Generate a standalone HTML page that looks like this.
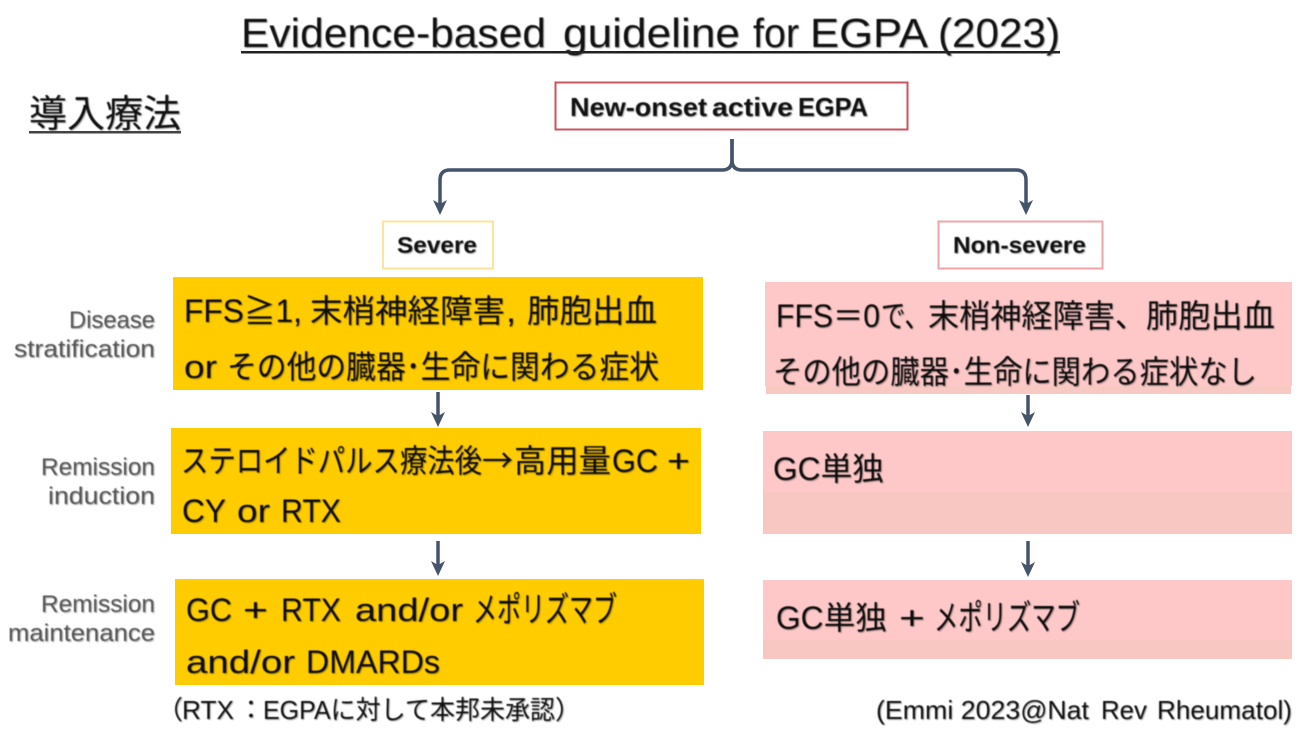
<!DOCTYPE html>
<html lang="ja"><head><meta charset="utf-8"><title>Evidence-based guideline for EGPA (2023)</title>
<style>
html,body{margin:0;padding:0;background:#fff;width:1300px;height:731px;overflow:hidden}
svg{display:block}
text{font-family:"Liberation Sans","Noto Sans CJK JP",sans-serif;fill:#111;filter:url(#s)}
.j{font-size:32px;fill:#0c0c0c}
.k{font-size:35px;fill:#0c0c0c}
.l{font-size:24.5px;fill:#555}
.b{font-weight:bold}
.t{font-size:41px}
.c{font-family:"Noto Sans CJK JP",sans-serif}
</style></head><body>
<svg width="1300" height="731" viewBox="0 0 1300 731" xmlns="http://www.w3.org/2000/svg">
<defs><filter id="s" x="-10%" y="-25%" width="120%" height="150%" color-interpolation-filters="sRGB">
<feGaussianBlur in="SourceGraphic" stdDeviation="0.5" result="b"/>
<feOffset in="SourceAlpha" dx="1" dy="1" result="o"/>
<feGaussianBlur in="o" stdDeviation="0.9" result="g"/>
<feComponentTransfer in="g" result="sh"><feFuncA type="linear" slope="0.3"/></feComponentTransfer>
<feMerge><feMergeNode in="sh"/><feMergeNode in="b"/></feMerge>
</filter></defs>
<rect width="1300" height="731" fill="#fff"/>

<text class="t" x="241" y="47" textLength="305" lengthAdjust="spacingAndGlyphs">Evidence-based</text>
<text class="t" x="563" y="47" textLength="177" lengthAdjust="spacingAndGlyphs">guideline</text>
<text class="t" x="753" y="47" textLength="46" lengthAdjust="spacingAndGlyphs">for</text>
<text class="t" x="810" y="47" textLength="118" lengthAdjust="spacingAndGlyphs">EGPA</text>
<text class="t" x="938" y="47" textLength="122" lengthAdjust="spacingAndGlyphs">(2023)</text>
<rect x="241" y="51" width="819" height="2.5" fill="#222"/>
<text x="29" y="127" font-size="38" textLength="152" lengthAdjust="spacingAndGlyphs">導入療法</text>
<rect x="29" y="131" width="152" height="2.5" fill="#444"/>

<rect x="555.5" y="82.5" width="352" height="47" fill="#fff" stroke="#c9555e" stroke-width="2"/>
<text x="570" y="116" font-size="26" class="b" textLength="137" lengthAdjust="spacingAndGlyphs">New-onset</text>
<text x="712" y="116" font-size="26" class="b" textLength="81" lengthAdjust="spacingAndGlyphs">active</text>
<text x="798" y="116" font-size="26" class="b" textLength="70" lengthAdjust="spacingAndGlyphs">EGPA</text>
<rect x="383" y="221.5" width="110" height="47" fill="#fff" stroke="#fde39b" stroke-width="2"/>
<text x="397" y="253" font-size="23" class="b" textLength="80" lengthAdjust="spacingAndGlyphs">Severe</text>
<rect x="938.5" y="221.5" width="164" height="47" fill="#fff" stroke="#f2a3a8" stroke-width="2"/>
<text x="953" y="253" font-size="23" class="b" textLength="133" lengthAdjust="spacingAndGlyphs">Non-severe</text>

<g fill="none" stroke="#44546a" stroke-width="3.5">
<path d="M732 139V160Q732 170 722 170H450Q440 170 440 180V204"/>
<path d="M732 139V160Q732 170 742 170H1016Q1026 170 1026 180V204"/>
<path d="M438 392V416"/><path d="M438 541V565"/>
<path d="M1028 395V418"/><path d="M1028 541V566"/>
</g>
<g fill="#44546a">
<path d="M433 200L440 204L447 200L440 215Z"/><path d="M1019 200L1026 204L1033 200L1026 215Z"/>
<path d="M431 412L438 416L445 412L438 427Z"/><path d="M431 561L438 565L445 561L438 576Z"/>
<path d="M1021 412L1028 416L1035 412L1028 427Z"/><path d="M1021 562L1028 566L1035 562L1028 577Z"/>
</g>

<rect x="173" y="277" width="530" height="113" fill="#ffcc00"/>
<rect x="171" y="428" width="530" height="106" fill="#ffcc00"/>
<rect x="175" y="579" width="529" height="106" fill="#ffcc00"/>

<rect x="766" y="382" width="525" height="12" fill="#f8c8c3"/>
<rect x="765" y="282" width="527" height="104" fill="#fec8c8"/>
<rect x="763" y="431" width="529" height="103" fill="#f8c7c2"/>
<rect x="763" y="431" width="529" height="61" fill="#fec8c8"/>
<rect x="763" y="580" width="529" height="79" fill="#f8c7c2"/>
<rect x="763" y="580" width="529" height="60" fill="#fec8c8"/>

<text class="j" x="184" y="322" textLength="118" lengthAdjust="spacingAndGlyphs">FFS≧1,</text>
<text class="j" x="310" y="322" textLength="195" lengthAdjust="spacingAndGlyphs">末梢神経障害</text>
<text class="j" x="506" y="322" textLength="10" lengthAdjust="spacingAndGlyphs">,</text>
<text class="j" x="527" y="322" textLength="130" lengthAdjust="spacingAndGlyphs">肺胞出血</text>
<text class="j" x="184" y="378" textLength="33" lengthAdjust="spacingAndGlyphs">or</text>
<text class="j" x="227" y="378" textLength="432" lengthAdjust="spacingAndGlyphs">その他の臓器･生命に関わる症状</text>
<text class="j" x="181" y="472" textLength="301" lengthAdjust="spacingAndGlyphs">ステロイドパルス療法後</text>
<text class="j c" x="482" y="472" textLength="31" lengthAdjust="spacingAndGlyphs">→</text>
<text class="j" x="514" y="472" textLength="97" lengthAdjust="spacingAndGlyphs">高用量</text>
<text class="j" x="612" y="472" textLength="46" lengthAdjust="spacingAndGlyphs">GC</text>
<text class="j" x="667" y="472" textLength="23" lengthAdjust="spacingAndGlyphs">+</text>
<text class="j" x="182" y="522" textLength="44" lengthAdjust="spacingAndGlyphs">CY</text>
<text class="j" x="237" y="522" textLength="33" lengthAdjust="spacingAndGlyphs">or</text>
<text class="j" x="281" y="522" textLength="60" lengthAdjust="spacingAndGlyphs">RTX</text>
<text class="j" x="186" y="621" textLength="46" lengthAdjust="spacingAndGlyphs">GC</text>
<text class="j" x="243" y="621" textLength="25" lengthAdjust="spacingAndGlyphs">+</text>
<text class="j" x="281" y="621" textLength="60" lengthAdjust="spacingAndGlyphs">RTX</text>
<text class="j" x="355" y="621" textLength="108" lengthAdjust="spacingAndGlyphs">and/or</text>
<text class="k" x="473" y="622" textLength="144" lengthAdjust="spacingAndGlyphs">メポリズマブ</text>
<text class="j" x="186" y="673" textLength="109" lengthAdjust="spacingAndGlyphs">and/or</text>
<text class="j" x="306" y="673" textLength="134" lengthAdjust="spacingAndGlyphs">DMARDs</text>

<text class="j" x="776" y="327" textLength="104" lengthAdjust="spacingAndGlyphs">FFS＝0</text>
<text class="j" x="881" y="327" textLength="48" lengthAdjust="spacingAndGlyphs">で、</text>
<text class="j" x="928" y="327" textLength="218" lengthAdjust="spacingAndGlyphs">末梢神経障害、</text>
<text class="j" x="1146" y="327" textLength="129" lengthAdjust="spacingAndGlyphs">肺胞出血</text>
<text class="j" x="773" y="383" textLength="484" lengthAdjust="spacingAndGlyphs">その他の臓器･生命に関わる症状なし</text>
<text class="j" x="773" y="480" textLength="111" lengthAdjust="spacingAndGlyphs">GC単独</text>
<text class="j" x="776" y="629" textLength="111" lengthAdjust="spacingAndGlyphs">GC単独</text>
<text class="j" x="899" y="629" textLength="26" lengthAdjust="spacingAndGlyphs">+</text>
<text class="k" x="934" y="630" textLength="146" lengthAdjust="spacingAndGlyphs">メポリズマブ</text>

<text class="l" x="69" y="328" textLength="86" lengthAdjust="spacingAndGlyphs">Disease</text>
<text class="l" x="14" y="357" textLength="141" lengthAdjust="spacingAndGlyphs">stratification</text>
<text class="l" x="41" y="475" textLength="114" lengthAdjust="spacingAndGlyphs">Remission</text>
<text class="l" x="48" y="504" textLength="107" lengthAdjust="spacingAndGlyphs">induction</text>
<text class="l" x="41" y="612" textLength="114" lengthAdjust="spacingAndGlyphs">Remission</text>
<text class="l" x="8" y="641" textLength="147" lengthAdjust="spacingAndGlyphs">maintenance</text>

<text x="157" y="719" font-size="26" fill="#222" textLength="26" lengthAdjust="spacingAndGlyphs">（</text>
<text x="182" y="719" font-size="26" fill="#222" textLength="52" lengthAdjust="spacingAndGlyphs">RTX</text>
<text x="238" y="719" font-size="26" fill="#222" textLength="26" lengthAdjust="spacingAndGlyphs">：</text>
<text x="263" y="719" font-size="26" fill="#222" textLength="292" lengthAdjust="spacingAndGlyphs">EGPAに対して本邦未承認</text>
<text x="555" y="719" font-size="26" fill="#222" textLength="26" lengthAdjust="spacingAndGlyphs">）</text>
<text x="876" y="719" font-size="26" textLength="213" lengthAdjust="spacingAndGlyphs">(Emmi 2023@Nat</text>
<text x="1101" y="719" font-size="26" textLength="46" lengthAdjust="spacingAndGlyphs">Rev</text>
<text x="1157" y="719" font-size="26" textLength="135" lengthAdjust="spacingAndGlyphs">Rheumatol)</text>
</svg>
</body></html>
